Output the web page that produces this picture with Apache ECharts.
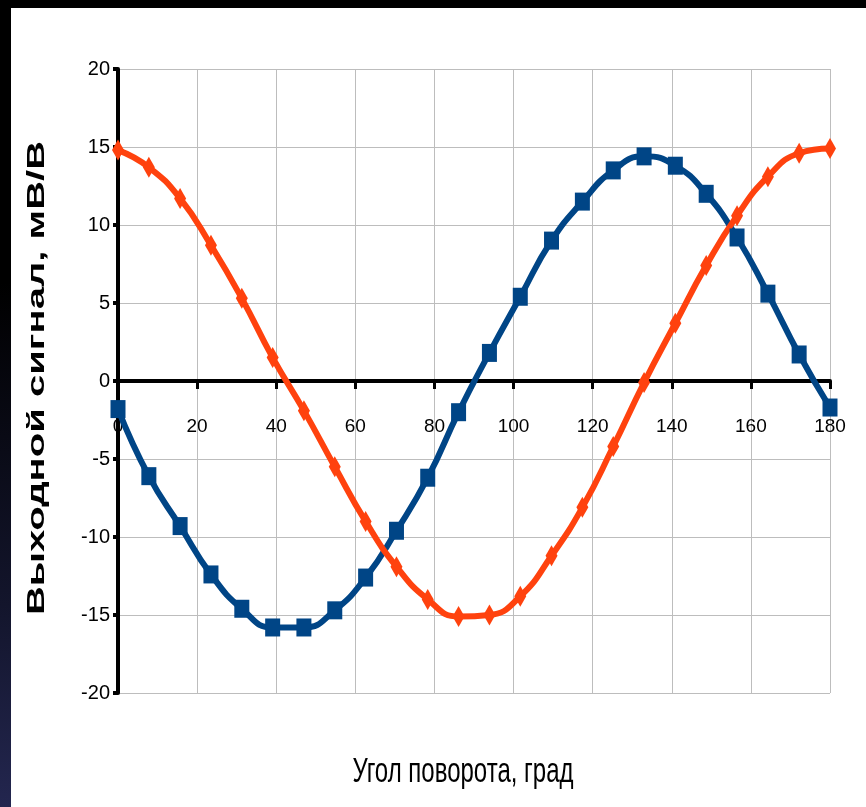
<!DOCTYPE html>
<html>
<head>
<meta charset="utf-8">
<script src="https://cdn.jsdelivr.net/npm/echarts@6/dist/echarts.min.js"></script>
<style>
  html, body { margin: 0; padding: 0; background: #000; }
  #strip { position: absolute; left: 0; top: 0; width: 11px; height: 807px;
           background: linear-gradient(to bottom, #000 0%, #000 35%, #13152c 75%, #23264f 100%); }
  #panel { position: absolute; left: 11px; top: 8px; width: 855px; height: 799px; background: #fff; }
  #main { position: absolute; left: 0; top: 0; width: 866px; height: 807px; }
</style>
</head>
<body>
<div id="strip"></div>
<div id="panel"></div>
<div id="main"></div>
<script>
// угол поворота, град
var angle = [0, 7.8, 15.7, 23.5, 31.3, 39.1, 47, 54.8, 62.6, 70.4, 78.3, 86.1,
             93.9, 101.7, 109.6, 117.4, 125.2, 133, 140.9, 148.7, 156.5, 164.3, 172.2, 180];
// синяя кривая (квадраты)
var blueVals = [-1.8, -6.1, -9.3, -12.4, -14.6, -15.8, -15.8, -14.7, -12.6, -9.6, -6.2, -2.0,
                1.8, 5.4, 9.0, 11.5, 13.5, 14.4, 13.8, 12.0, 9.2, 5.6, 1.7, -1.7];
// оранжевая кривая (ромбы)
var orangeVals = [14.8, 13.7, 11.7, 8.7, 5.3, 1.5, -1.9, -5.5, -9.0, -11.9, -14.0, -15.1,
                  -15.0, -13.8, -11.2, -8.1, -4.2, -0.1, 3.7, 7.4, 10.6, 13.1, 14.6, 14.9];

var xTitle = 'Угол поворота, град';
var yTitle = 'Выходной сигнал, мВ/В';

function pairs(ys) {
    return angle.map(function (a, i) { return [a, ys[i]]; });
}

var gridTop = 69, gridBottom = 114, chartH = 807;
// ось X проходит через ноль (середина диапазона -20..20)
var zeroShift = -(chartH - gridTop - gridBottom) / 2;

var myChart = echarts.init(document.getElementById('main'));
var option = {
    animation: false,
    backgroundColor: 'transparent',
    grid: { left: 118, right: 36, top: gridTop, bottom: gridBottom },
    xAxis: {
        type: 'value',
        min: 0, max: 180, interval: 20,
        offset: zeroShift,
        axisLine: { onZero: false, lineStyle: { color: '#000', width: 4 } },
        axisTick: { show: true, length: 8, lineStyle: { color: '#000', width: 3 } },
        axisLabel: { color: '#000', fontSize: 19, fontFamily: 'Liberation Sans', margin: 36 },
        splitLine: { show: true, lineStyle: { color: '#bdbdbd', width: 1 } }
    },
    yAxis: {
        type: 'value',
        min: -20, max: 20, interval: 5,
        axisLine: { show: true, onZero: false, lineStyle: { color: '#000', width: 4 } },
        axisTick: { show: true, length: 5, lineStyle: { color: '#000', width: 4 } },
        axisLabel: { color: '#000', fontSize: 20, fontFamily: 'Liberation Sans', margin: 8 },
        splitLine: { show: true, lineStyle: { color: '#bdbdbd', width: 1 } }
    },
    graphic: [
        {
            type: 'text', x: 38, y: 378, rotation: Math.PI / 2, scaleX: 1.74,
            style: { text: yTitle, fill: '#000', font: 'bold 23px "Liberation Sans"',
                     align: 'center', verticalAlign: 'middle' }
        },
        {
            type: 'text', x: 463, y: 772, scaleY: 1.45,
            style: { text: xTitle, fill: '#000', font: '24px "Liberation Sans"',
                     align: 'center', verticalAlign: 'middle' }
        }
    ],
    series: [
        {
            name: 'blue',
            type: 'line',
            data: pairs(blueVals),
            smooth: true,
            symbol: 'rect',
            symbolSize: [15, 18],
            lineStyle: { color: '#004586', width: 6 },
            itemStyle: { color: '#004586' }
        },
        {
            name: 'orange',
            type: 'line',
            data: pairs(orangeVals),
            smooth: true,
            symbol: 'diamond',
            symbolSize: [12, 21],
            lineStyle: { color: '#ff420e', width: 6 },
            itemStyle: { color: '#ff420e' }
        }
    ]
};
myChart.setOption(option);
</script>
</body>
</html>
